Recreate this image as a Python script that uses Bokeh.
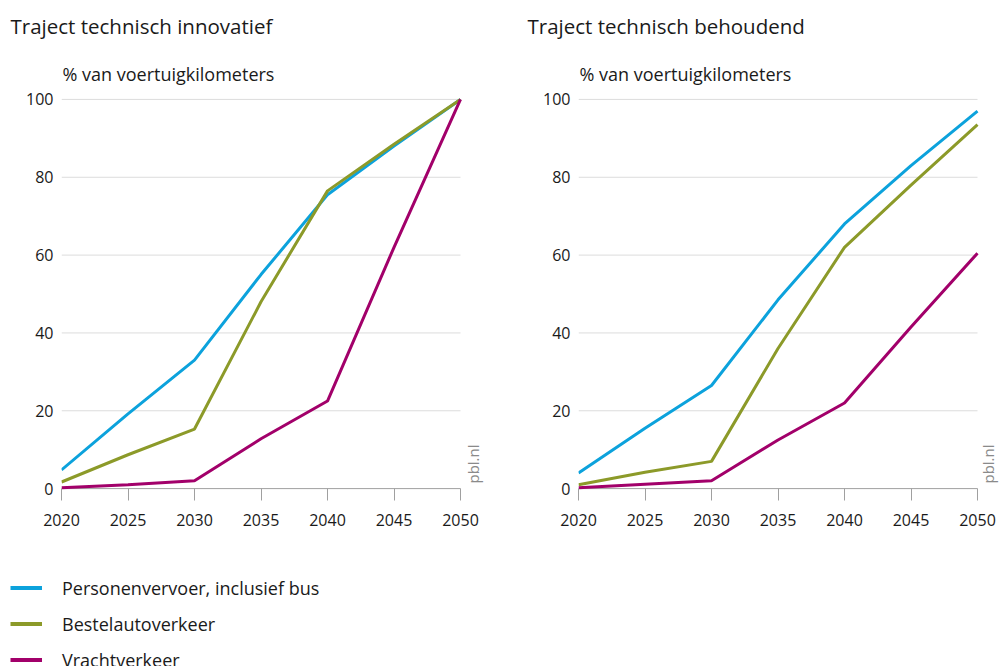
from bokeh.plotting import figure
from bokeh.models import Range1d, FixedTicker, Legend, LegendItem, Title, Label
from bokeh.layouts import row, column
from bokeh.embed import file_html
from bokeh.resources import INLINE
import math

years = [2020, 2025, 2030, 2035, 2040, 2045, 2050]

innov_personen = [4.8, 19.2, 33.0, 55.0, 75.5, 88.0, 100.0]
innov_bestel = [1.7, 8.7, 15.3, 48.0, 76.5, 88.5, 100.0]
innov_vracht = [0.2, 1.0, 2.0, 12.8, 22.5, 62.0, 100.0]

behoud_personen = [4.0, 15.5, 26.5, 48.5, 68.0, 83.0, 97.0]
behoud_bestel = [1.0, 4.2, 7.0, 36.0, 62.0, 78.0, 93.5]
behoud_vracht = [0.2, 1.1, 2.0, 12.5, 22.0, 41.5, 60.5]

series_names = ["Personenvervoer, inclusief bus", "Bestelautoverkeer", "Vrachtverkeer"]
colors = ["#0ca2dc", "#8c9a29", "#a2006a"]

titles = ["Traject technisch innovatief", "Traject technisch behoudend"]
subtitle = "% van voertuigkilometers"
source_label = "pbl.nl"
y_ticks = [0, 20, 40, 60, 80, 100]
x_ticks = years

FONT = "Open Sans"
TXT = "#1a1a1a"
DATA_W = 399  # pixel width of the 2020-2050 span


def make_panel(title, data, width, border_left, pbl_offset):
    frame_w = width - border_left
    x_end = years[0] + (years[-1] - years[0]) * frame_w / DATA_W
    p = figure(width=width, height=548, output_backend="svg", toolbar_location=None,
               x_range=Range1d(years[0], x_end), y_range=Range1d(-1, 100.75),
               min_border_left=border_left, min_border_right=0,
               min_border_top=96, min_border_bottom=56, title=None)
    p.outline_line_color = None
    p.background_fill_color = "white"
    p.border_fill_color = "white"
    p.xgrid.grid_line_color = None
    p.ygrid.grid_line_color = None

    # horizontal grid lines (only over the 2020-2050 span) and the baseline
    p.segment(x0=[years[0]] * (len(y_ticks) - 1), x1=[years[-1]] * (len(y_ticks) - 1),
              y0=y_ticks[1:], y1=y_ticks[1:], line_color="#dcdcdc", line_width=1)
    p.segment(x0=[years[0]], x1=[years[-1]], y0=[y_ticks[0]], y1=[y_ticks[0]],
              line_color="#a0a0a0", line_width=1)

    p.yaxis.ticker = FixedTicker(ticks=y_ticks)
    p.yaxis.axis_line_color = None
    p.yaxis.major_tick_line_color = None
    p.yaxis.minor_tick_line_color = None
    p.yaxis.major_tick_in = 0
    p.yaxis.major_tick_out = 0
    p.yaxis.major_label_standoff = 8
    p.yaxis.major_label_text_font = FONT
    p.yaxis.major_label_text_font_size = "16px"
    p.yaxis.major_label_text_color = TXT

    p.xaxis.ticker = FixedTicker(ticks=x_ticks)
    p.xaxis.axis_line_color = None
    p.xaxis.major_tick_line_color = "#a0a0a0"
    p.xaxis.minor_tick_line_color = None
    p.xaxis.major_tick_in = 4
    p.xaxis.major_tick_out = 8
    p.xaxis.major_label_standoff = 13
    p.xaxis.major_label_text_font = FONT
    p.xaxis.major_label_text_font_size = "16px"
    p.xaxis.major_label_text_color = TXT

    for vals, c in zip(data, colors):
        p.line(years, vals, line_color=c, line_width=3)

    p.add_layout(Title(text=subtitle, align="left", offset=1, standoff=22,
                       text_font=FONT, text_font_size="18px", text_font_style="normal",
                       text_color=TXT), "above")
    p.add_layout(Title(text=title, align="left", offset=-(border_left - 10), standoff=18,
                       text_font=FONT, text_font_size="20.5px", text_font_style="normal",
                       text_color=TXT), "above")

    p.add_layout(Label(x=years[-1], y=1.3, x_offset=pbl_offset, text=source_label,
                       text_font=FONT, text_font_size="15px", text_color="#8a8a8a",
                       text_align="left", text_baseline="middle", angle=math.pi / 2))
    return p


p1 = make_panel(titles[0], [innov_personen, innov_bestel, innov_vracht], 517, 61, 12)
p2 = make_panel(titles[1], [behoud_personen, behoud_bestel, behoud_vracht], 483, 61, 10)

lf = figure(width=1000, height=118, output_backend="svg", toolbar_location=None,
            x_range=Range1d(0, 1), y_range=Range1d(0, 1),
            min_border_left=10, min_border_right=0, min_border_top=23, min_border_bottom=0)
lf.axis.visible = False
lf.grid.visible = False
lf.outline_line_color = None
items = []
for name, vals, c in zip(series_names, [innov_personen, innov_bestel, innov_vracht], colors):
    r = lf.line(years, vals, line_color=c, line_width=4)
    items.append(LegendItem(label=name, renderers=[r]))
leg = Legend(items=items, location="top_left", margin=0, padding=0,
             glyph_width=32, glyph_height=33, label_height=33, spacing=3,
             label_standoff=20, label_text_font=FONT, label_text_font_size="18px",
             label_text_color=TXT, border_line_color=None, background_fill_alpha=0)
lf.add_layout(leg, "center")

layout = column(row(p1, p2), lf)
open("out.html", "w").write(file_html(layout, INLINE))
